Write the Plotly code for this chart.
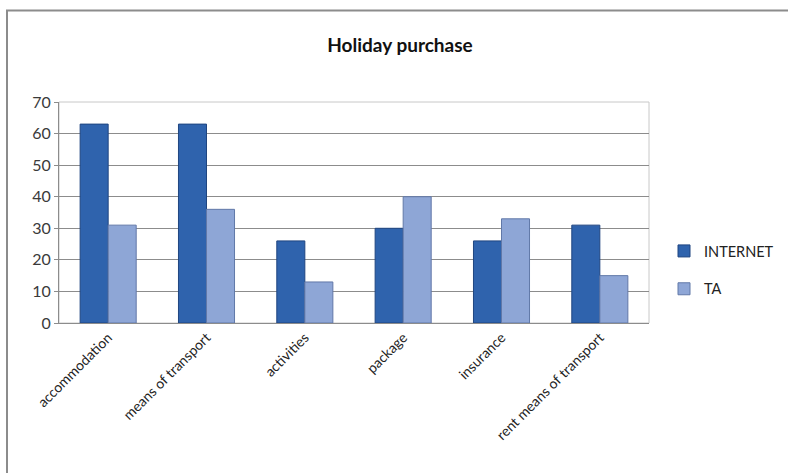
import plotly.graph_objects as go

# Share of holiday purchases made via internet vs. travel agent (TA)
categories = ["accommodation", "means of transport", "activities",
              "package", "insurance", "rent means of transport"]
internet = [63, 63, 26, 30, 26, 31]
ta = [31, 36, 13, 40, 33, 15]
y_ticks = [0, 10, 20, 30, 40, 50, 60, 70]

W, H = 788, 473
ML, MR, MT, MB = 59, 139, 102, 150
pw, ph = W - ML - MR, H - MT - MB

FONT = "Lato, 'Open Sans', sans-serif"

fig = go.Figure()
fig.add_trace(go.Bar(
    x=categories, y=internet, name="INTERNET", legendgroup="a",
    marker=dict(color="#2f63ad", line=dict(color="#1f4580", width=1)),
))
fig.add_trace(go.Bar(
    x=categories, y=ta, name="TA", legendgroup="b",
    marker=dict(color="#8ea6d6", line=dict(color="#6178a8", width=1)),
))

# outer chart frame (left and top edges visible, rest runs off the page)
fx = lambda px: (px - ML) / pw
fy = lambda py: (H - MB - py) / ph
fig.add_shape(type="rect", xref="paper", yref="paper",
              x0=fx(7), x1=fx(900), y0=fy(600), y1=fy(10.5),
              line=dict(color="#8c8c8c", width=2), fillcolor="rgba(0,0,0,0)",
              layer="below")

fig.update_layout(
    width=W, height=H,
    margin=dict(l=ML, r=MR, t=MT, b=MB, autoexpand=False),
    paper_bgcolor="white", plot_bgcolor="white",
    barmode="group", bargap=0.43, bargroupgap=0,
    title=dict(text="<b>Holiday purchase</b>", x=(400 / W), xanchor="center",
               y=1 - 45 / H, yanchor="middle",
               font=dict(family=FONT, size=19, color="#111111")),
    font=dict(family=FONT, color="#333333"),
    legend=dict(x=fx(664), xanchor="left", y=fy(270), yanchor="middle",
                font=dict(size=14.5, color="#222222"),
                tracegroupgap=16, itemwidth=30, bgcolor="rgba(0,0,0,0)"),
    showlegend=True,
)
fig.update_yaxes(range=[0, 70], tickvals=y_ticks, showgrid=True,
                 gridcolor="#8c8c8c", gridwidth=1,
                 showline=True, linecolor="#8c8c8c", linewidth=1,
                 ticks="outside", ticklen=4, tickcolor="#8c8c8c",
                 tickfont=dict(size=16, color="#3a3a3a"), zeroline=False)
fig.update_xaxes(showline=True, linecolor="#8c8c8c", linewidth=1,
                 mirror=False, tickangle=-45,
                 tickfont=dict(size=14, color="#222222"))
# light frame around plot area
fig.add_shape(type="rect", xref="paper", yref="paper", x0=0, x1=1, y0=0, y1=1,
              line=dict(color="#c8c8c8", width=1), layer="below")

fig.write_html("out.html")
